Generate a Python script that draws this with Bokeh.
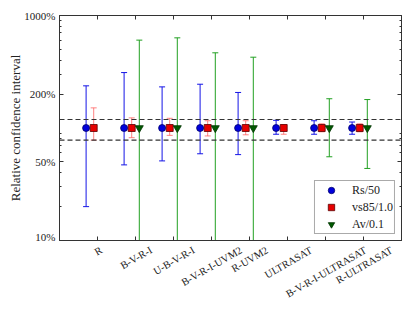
import math
from bokeh.plotting import figure
from bokeh.layouts import column
from bokeh.core.properties import value
from bokeh.models import (LogAxis, LinearAxis, FixedTicker, Span, Legend,
                          LegendItem, Range1d, PrintfTickFormatter)
from bokeh.embed import file_html
from bokeh.resources import INLINE

# ---------------- data ----------------
categories = ["R", "B-V-R-I", "U-B-V-R-I", "B-V-R-I-UVM2", "R-UVM2",
              "ULTRASAT", "B-V-R-I-ULTRASAT", "R-ULTRASAT"]
cat_pos = [1, 2, 3, 4, 5, 6, 7, 8]

# Rs/50 (blue)
rs_center = [100, 100, 100, 100, 100, 100, 100, 100]
rs_upper = [237, 311, 232, 245, 207, 117, 116, 113]
rs_lower = [20, 47, 51, 59, 58, 88, 88, 88]

# vs85/1.0 (red)
vs_center = [100, 100, 100, 100, 100, 100, 100, 100]
vs_upper = [151, 123, 122, 116, 116, 107, 109, 109]
vs_lower = [78, 82, 86, 85, 87, 88, 92.5, 92.5]

# Av/0.1 (green) - only some combinations; lower bounds fall below the axis
av_pos = [2, 3, 4, 5, 7, 8]
av_center = [100, 100, 100, 100, 100, 100]
av_upper = [604, 633, 466, 426, 182, 179]
av_lower = [1, 1, 1, 1, 55.5, 43.7]

ref_lines = [119, 78]

y_major = [10, 50, 200, 1000]
y_minor = [20, 30, 40, 60, 70, 80, 90, 300, 400, 500, 600, 700, 800, 900]

FONT = "Liberation Serif"
TXT = "#222222"
LAB_H = 64        # height of the strip holding the rotated category labels
BOTTOM_GAP = 2    # border under the main frame

p = figure(frame_width=342, frame_height=225, x_range=Range1d(0, 9),
           y_range=Range1d(10, 1000), y_axis_type="log",
           output_backend="svg", toolbar_location=None,
           min_border_left=59, min_border_right=4, min_border_top=15,
           min_border_bottom=BOTTOM_GAP)
p.xgrid.visible = False
p.ygrid.visible = False
p.outline_line_color = "#222222"
p.outline_line_width = 1


def style_axis(ax):
    ax.major_tick_in = 4
    ax.major_tick_out = 0
    ax.minor_tick_in = 2
    ax.minor_tick_out = 0
    ax.axis_line_color = "#333333"
    ax.major_tick_line_color = "#333333"
    ax.minor_tick_line_color = "#333333"
    ax.major_label_text_font = FONT
    ax.major_label_text_color = TXT


xa = p.xaxis[0]
xa.ticker = FixedTicker(ticks=cat_pos, minor_ticks=[])
xa.major_label_overrides = {i: "" for i in cat_pos}
xa.major_label_standoff = 0
style_axis(xa)
xa.major_label_text_font_size = "0px"

top = LinearAxis(ticker=FixedTicker(ticks=cat_pos, minor_ticks=[]),
                 major_label_overrides={i: "" for i in cat_pos},
                 major_label_standoff=0)
style_axis(top)
top.major_label_text_font_size = "0px"
p.add_layout(top, "above")

ya = p.yaxis[0]
ya.ticker = FixedTicker(ticks=y_major, minor_ticks=y_minor)
ya.formatter = PrintfTickFormatter(format="%d%%")
style_axis(ya)
ya.major_label_text_font_size = "11px"
ya.major_label_standoff = 4
ya.axis_label = "Relative confidence interval"
ya.axis_label_text_font = FONT
ya.axis_label_text_font_style = "normal"
ya.axis_label_text_font_size = "13px"
ya.axis_label_text_color = TXT
ya.axis_label_standoff = -2

right = LogAxis(ticker=FixedTicker(ticks=y_major, minor_ticks=y_minor),
                major_label_overrides={v: "" for v in y_major},
                major_label_standoff=0)
style_axis(right)
right.major_label_text_font_size = "0px"
p.add_layout(right, "right")

for v in ref_lines:
    p.add_layout(Span(location=v, dimension="width", line_color="#333333",
                      line_dash="5 3", line_width=1.2))


def errorbars(xs, ys, lo, hi, dx, bar_color, bar_alpha, marker, fill, edge, size):
    x = [v + dx for v in xs]
    p.segment(x0=x, y0=lo, x1=x, y1=hi, line_color=bar_color,
              line_alpha=bar_alpha, line_width=1.0)
    p.scatter(x=x + x, y=lo + hi, marker="dash", size=6, line_color=bar_color,
              line_alpha=bar_alpha, line_width=1)
    return p.scatter(x=x, y=ys, marker=marker, size=size, fill_color=fill,
                     line_color=edge, line_width=0.8)


r_rs = errorbars(cat_pos, rs_center, rs_lower, rs_upper, -0.3, "#1414e6", 1.0,
                 "circle", "#0000dd", "#00006a", 7)
r_vs = errorbars(cat_pos, vs_center, vs_lower, vs_upper, -0.1, "#ff5a5a", 0.75,
                 "square", "#e60000", "#5a0000", 7)
r_av = errorbars(av_pos, av_center, av_lower, av_upper, 0.1, "#22a022", 1.0,
                 "inverted_triangle", "#005a00", "#003300", 8)

legend = Legend(items=[LegendItem(label="Rs/50", renderers=[r_rs]),
                       LegendItem(label="vs85/1.0", renderers=[r_vs]),
                       LegendItem(label="Av/0.1", renderers=[r_av])],
                location="bottom_right")
legend.margin = 6
legend.padding = 1
legend.spacing = 1
legend.glyph_width = 30
legend.glyph_height = 16
legend.label_height = 16
legend.label_standoff = 6
legend.label_text_font = FONT
legend.label_text_font_size = "12px"
legend.label_text_color = TXT
legend.border_line_color = "#555555"
legend.border_line_width = 1.5
legend.background_fill_alpha = 1.0
p.add_layout(legend)

# strip below the frame with the rotated category labels, sharing the x range
p2 = figure(frame_width=342, frame_height=LAB_H, x_range=p.x_range,
            y_range=Range1d(0, LAB_H), x_axis_location=None,
            y_axis_location=None, output_backend="svg", toolbar_location=None,
            min_border_left=59, min_border_right=4, min_border_top=0,
            min_border_bottom=0)
p2.outline_line_color = None
p2.xgrid.visible = False
p2.ygrid.visible = False

# labels anchored at their top-right corner (the highest point once rotated),
# shifted so the rotated box is centred under its tick
char_w = {"A": 0.722, "B": 0.667, "I": 0.333, "L": 0.611, "M": 0.889,
          "R": 0.667, "S": 0.556, "T": 0.611, "U": 0.722, "V": 0.722,
          "2": 0.5, "-": 0.333}
fs = 10.5
k_w = 0.96
ang = math.radians(30)
lab_y = []
lab_dx = []
for name in categories:
    w = k_w * sum(char_w.get(c, 0.6) for c in name) * fs
    h = 0.7 * fs
    lab_dx.append((w * math.cos(ang) - h * math.sin(ang)) / 2)
    lab_y.append(LAB_H - (4 - BOTTOM_GAP))
p2.text(x=cat_pos, y=lab_y, x_offset=lab_dx, text=categories, angle=30,
        angle_units="deg", text_align="right", text_baseline="top",
        text_font=value(FONT), text_font_size=value(f"{fs}px"),
        text_color=TXT)

layout = column(p, p2, spacing=0)
open("out.html", "w").write(file_html(layout, INLINE))
